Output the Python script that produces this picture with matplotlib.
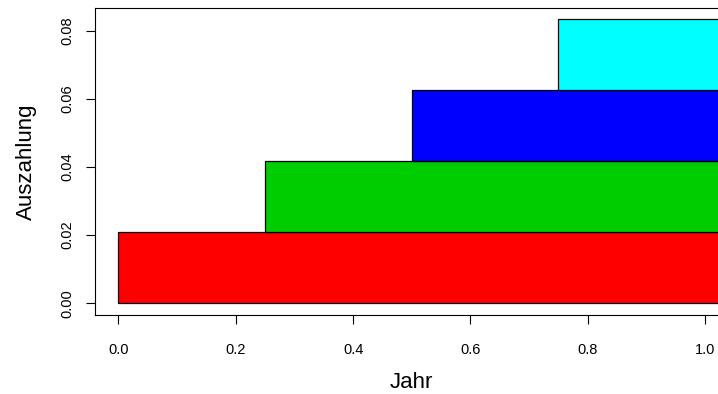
import matplotlib
matplotlib.use("Agg")
import matplotlib.pyplot as plt

# horizontal bands (annuity payment by year fraction)
starts = [0.0, 0.25, 0.5, 0.75]
levels = [0.0, 0.0208333, 0.0416667, 0.0625, 0.0833333]
colors = ["#FF0000", "#00CD00", "#0000FF", "#00FFFF"]
bar_end = 1.2

xticks = [0.0, 0.2, 0.4, 0.6, 0.8, 1.0]
yticks = [0.00, 0.02, 0.04, 0.06, 0.08]

plt.rcParams["font.family"] = ["Liberation Sans", "DejaVu Sans"]

fig = plt.figure(figsize=(7.18, 3.94), dpi=100)
# plot region runs past the right edge of the figure, like the original
ax = fig.add_axes([95 / 718, (394 - 314.5) / 394, (728.5 - 95) / 718, (314.5 - 8) / 394])

for i, (s, c) in enumerate(zip(starts, colors)):
    ax.barh(levels[i], bar_end - s, height=levels[i + 1] - levels[i], left=s,
            align="edge", color=c, edgecolor="black", linewidth=0.9)

ax.set_xlim(-0.04, 1.04)
ax.set_ylim(-0.0033333, 0.0866667)

ax.set_xticks(xticks)
ax.set_xticklabels([f"{v:.1f}" for v in xticks])
ax.set_yticks(yticks)
ax.set_yticklabels([f"{v:.2f}" for v in yticks], rotation=90, va="center")
ax.tick_params(length=6.5, width=0.8, labelsize=10.5)
ax.tick_params(axis="x", pad=14)
ax.tick_params(axis="y", pad=8)

for sp in ax.spines.values():
    sp.set_linewidth(0.8)

ax.set_xlabel("Jahr", fontsize=16, labelpad=10.5)
ax.set_ylabel("Auszahlung", fontsize=16, labelpad=17)

fig.savefig("out.png", dpi=100)
